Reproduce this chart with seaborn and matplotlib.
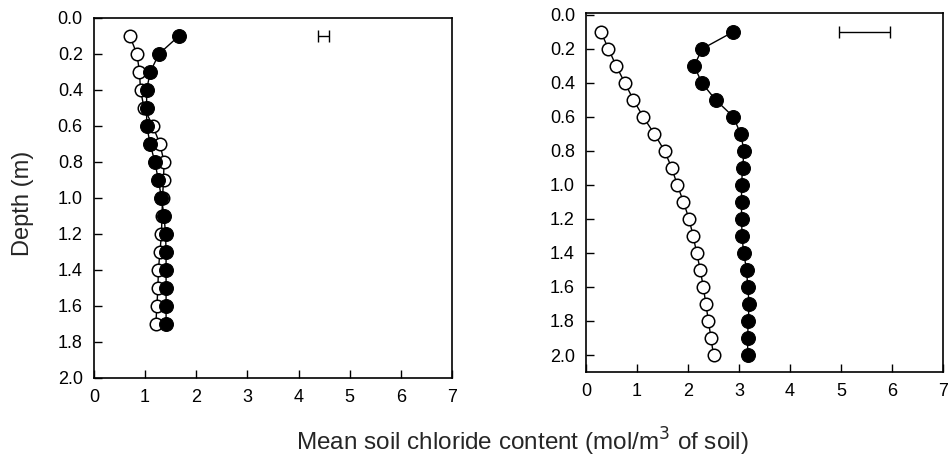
import matplotlib
matplotlib.use('Agg')
import matplotlib.pyplot as plt
import numpy as np
import pandas as pd
import seaborn as sns

# Depth profiles of soil chloride, two sites

# Left panel data (depths 0.1 - 1.7 m)
depth_left = [0.1, 0.2, 0.3, 0.4, 0.5, 0.6, 0.7, 0.8, 0.9,
              1.0, 1.1, 1.2, 1.3, 1.4, 1.5, 1.6, 1.7]
open_left = [0.70, 0.84, 0.89, 0.91, 0.98, 1.15, 1.29, 1.37, 1.36,
             1.34, 1.33, 1.32, 1.29, 1.26, 1.25, 1.23, 1.21]
filled_left = [1.66, 1.27, 1.10, 1.03, 1.03, 1.03, 1.10, 1.19, 1.26,
               1.32, 1.37, 1.40, 1.41, 1.41, 1.41, 1.41, 1.41]
errbar_left = (4.49, 0.1, 0.11)   # centre x, depth, half width

# Right panel data (depths 0.1 - 2.0 m)
depth_right = [0.1, 0.2, 0.3, 0.4, 0.5, 0.6, 0.7, 0.8, 0.9, 1.0,
               1.1, 1.2, 1.3, 1.4, 1.5, 1.6, 1.7, 1.8, 1.9, 2.0]
open_right = [0.29, 0.44, 0.59, 0.76, 0.93, 1.12, 1.34, 1.54, 1.68, 1.79,
              1.91, 2.02, 2.10, 2.17, 2.24, 2.30, 2.35, 2.40, 2.45, 2.50]
filled_right = [2.89, 2.28, 2.12, 2.27, 2.54, 2.89, 3.03, 3.10, 3.07, 3.05,
                3.05, 3.05, 3.06, 3.09, 3.15, 3.17, 3.20, 3.18, 3.17, 3.17]
errbar_right = (5.47, 0.1, 0.50)

x_ticks = [0, 1, 2, 3, 4, 5, 6, 7]
y_ticks = [0.0, 0.2, 0.4, 0.6, 0.8, 1.0, 1.2, 1.4, 1.6, 1.8, 2.0]

sns.set_style('ticks')
plt.rcParams['font.family'] = ['Liberation Sans', 'DejaVu Sans']

fig = plt.figure(figsize=(9.51, 4.59), dpi=100)
ax_l = fig.add_axes([0.0988, 0.1765, 0.3765, 0.7843])
ax_r = fig.add_axes([0.6162, 0.1895, 0.3754, 0.7821])


def draw_panel(ax, depth, open_vals, filled_vals, errbar, ylim):
    df = pd.DataFrame({'depth': depth, 'open': open_vals,
                       'filled': filled_vals})
    sns.lineplot(data=df, x='open', y='depth', sort=False, estimator=None,
                 color='black', linewidth=1.0, marker='o', markersize=9,
                 markerfacecolor='white', markeredgecolor='black',
                 markeredgewidth=1.1, ax=ax)
    sns.lineplot(data=df, x='filled', y='depth', sort=False, estimator=None,
                 color='black', linewidth=1.0, marker='o', markersize=10,
                 markerfacecolor='black', markeredgecolor='black', ax=ax)
    ax.errorbar(errbar[0], errbar[1], xerr=errbar[2], fmt='none',
                ecolor='black', elinewidth=1.0, capsize=4, capthick=1.0)
    ax.set_xlim(0, 7)
    ax.set_ylim(*ylim)
    ax.set_xticks(x_ticks)
    ax.set_yticks(y_ticks)
    ax.set_yticklabels([f'{v:.1f}' for v in y_ticks])
    ax.tick_params(direction='in', length=6, width=1.0, labelsize=13,
                   colors='black', pad=8)
    for s in ax.spines.values():
        s.set_visible(True)
        s.set_linewidth(1.2)
        s.set_color('black')
    ax.set_xlabel('')
    ax.set_ylabel('')


draw_panel(ax_l, depth_left, open_left, filled_left, errbar_left, (2.0, 0.0))
draw_panel(ax_r, depth_right, open_right, filled_right, errbar_right,
           (2.1, -0.01))

fig.text(0.549, 0.037, 'Mean soil chloride content (mol/m$^3$ of soil)',
         ha='center', va='center', fontsize=17.5)
fig.text(0.024, 0.558, 'Depth (m)', rotation=90, ha='center', va='center',
         fontsize=17)

fig.savefig('out.png', dpi=100)
